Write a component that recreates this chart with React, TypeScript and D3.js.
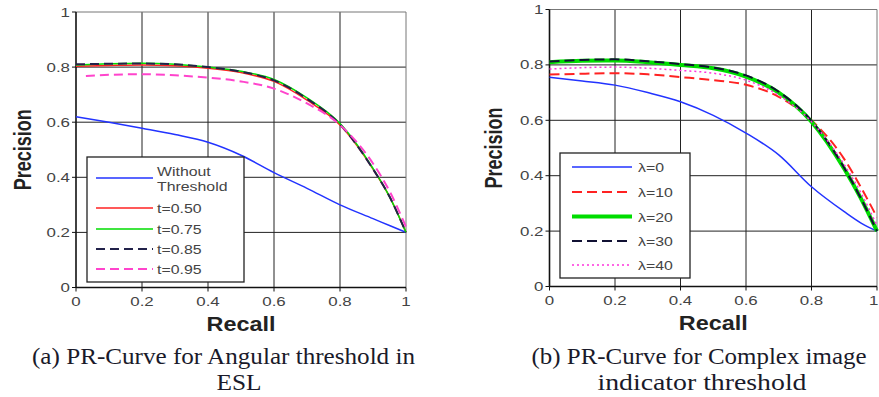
import React from "react";
import * as d3 from "d3";

const recallA = [0, 0.1, 0.2, 0.3, 0.4, 0.5, 0.6, 0.7, 0.8, 0.9, 0.95, 1.0];
const withoutThreshold = [0.62, 0.6, 0.578, 0.555, 0.527, 0.48, 0.417, 0.36, 0.3, 0.25, 0.225, 0.2];
const t050 = [0.803, 0.806, 0.808, 0.805, 0.796, 0.78, 0.748, 0.68, 0.59, 0.43, 0.33, 0.2];
const t075 = [0.808, 0.812, 0.814, 0.81, 0.8, 0.785, 0.755, 0.688, 0.595, 0.432, 0.33, 0.2];
const t085 = [0.81, 0.812, 0.813, 0.81, 0.8, 0.783, 0.752, 0.685, 0.592, 0.43, 0.33, 0.2];
const recallA95 = [0.03, 0.1, 0.2, 0.3, 0.4, 0.5, 0.6, 0.7, 0.8, 0.9, 0.95, 1.0];
const t095 = [0.768, 0.772, 0.774, 0.77, 0.762, 0.748, 0.722, 0.668, 0.59, 0.45, 0.35, 0.22];

const recallB = [0, 0.1, 0.2, 0.3, 0.4, 0.5, 0.6, 0.7, 0.8, 0.9, 0.95, 1.0];
const lambda0 = [0.755, 0.742, 0.727, 0.7, 0.667, 0.618, 0.554, 0.475, 0.36, 0.27, 0.23, 0.2];
const lambda10 = [0.765, 0.768, 0.77, 0.766, 0.756, 0.745, 0.728, 0.685, 0.6, 0.46, 0.36, 0.25];
const lambda20 = [0.81, 0.815, 0.816, 0.81, 0.8, 0.788, 0.758, 0.7, 0.595, 0.425, 0.32, 0.2];
const lambda30 = [0.812, 0.818, 0.82, 0.813, 0.803, 0.79, 0.762, 0.703, 0.598, 0.428, 0.32, 0.2];
const lambda40 = [0.785, 0.79, 0.792, 0.788, 0.78, 0.77, 0.745, 0.69, 0.595, 0.44, 0.34, 0.22];

const ticks = [0, 0.2, 0.4, 0.6, 0.8, 1];
const tickLabels = ["0", "0.2", "0.4", "0.6", "0.8", "1"];

type Series = {
  label: string[];
  x: number[];
  y: number[];
  color: string;
  width: number;
  dash?: string;
};

const seriesA: Series[] = [
  { label: ["Without", "Threshold"], x: recallA, y: withoutThreshold, color: "#2233ff", width: 1.5 },
  { label: ["t=0.50"], x: recallA, y: t050, color: "#ff2222", width: 1.5 },
  { label: ["t=0.75"], x: recallA, y: t075, color: "#00dd00", width: 1.5 },
  { label: ["t=0.85"], x: recallA, y: t085, color: "#22224a", width: 2, dash: "9,5" },
  { label: ["t=0.95"], x: recallA95, y: t095, color: "#ff44cc", width: 2, dash: "9,5" },
];

const seriesB: Series[] = [
  { label: ["λ=0"], x: recallB, y: lambda0, color: "#2233ff", width: 1.5 },
  { label: ["λ=10"], x: recallB, y: lambda10, color: "#ff2222", width: 2, dash: "10,5" },
  { label: ["λ=20"], x: recallB, y: lambda20, color: "#00dd00", width: 4 },
  { label: ["λ=30"], x: recallB, y: lambda30, color: "#111133", width: 2, dash: "10,5" },
  { label: ["λ=40"], x: recallB, y: lambda40, color: "#ff33dd", width: 1.5, dash: "2,3" },
];

const SANS = "'Liberation Sans', Arial, sans-serif";
const SERIF = "'Liberation Serif', 'Times New Roman', serif";

function Txt({
  x,
  y,
  children,
  size = 13,
  sx = 1.3,
  anchor = "start",
  weight = "normal",
  fill = "#444",
}: {
  x: number;
  y: number;
  children: React.ReactNode;
  size?: number;
  sx?: number;
  anchor?: string;
  weight?: string;
  fill?: string;
}) {
  return (
    <text
      transform={`translate(${x},${y}) scale(${sx},1)`}
      textAnchor={anchor}
      fontSize={size}
      fontWeight={weight}
      fill={fill}
      fontFamily={SANS}
    >
      {children}
    </text>
  );
}

type Caption = { text: string; cx: number; y: number; len: number };

type PanelProps = {
  x0: number;
  x1: number;
  y0: number;
  y1: number;
  series: Series[];
  legend: { x: number; y: number; w: number; h: number; rows: number[]; lx0: number; lx1: number; tx: number };
  captions: Caption[];
  precisionX: number;
};

function Panel({ x0, x1, y0, y1, series, legend, captions, precisionX }: PanelProps) {
  const xs = d3.scaleLinear().domain([0, 1]).range([x0, x1]);
  const ys = d3.scaleLinear().domain([0, 1]).range([y0, y1]);
  const mk = (s: Series) =>
    d3
      .line<number>()
      .x((_, i) => xs(s.x[i]))
      .y((v) => ys(v))
      .curve(d3.curveMonotoneX)(s.y) || "";
  return (
    <g>
      {ticks.slice(1, 5).map((t) => (
        <g key={"g" + t}>
          <line x1={xs(t)} x2={xs(t)} y1={y0} y2={y1} stroke="#222" strokeWidth={1} />
          <line x1={x0} x2={x1} y1={ys(t)} y2={ys(t)} stroke="#222" strokeWidth={1} />
        </g>
      ))}
      <line x1={x0} x2={x1} y1={y1} y2={y1} stroke="#777" strokeWidth={1} />
      <line x1={x1} x2={x1} y1={y0} y2={y1} stroke="#777" strokeWidth={1} />
      <line x1={x0} x2={x0} y1={y0} y2={y1} stroke="#111" strokeWidth={1.6} />
      <line x1={x0} x2={x1} y1={y0} y2={y0} stroke="#111" strokeWidth={1.6} />
      {ticks.map((t, i) => {
        const edge = xs(t) + 9 > 879;
        return (
          <g key={"t" + t}>
            <line x1={x0 - 4} x2={x0} y1={ys(t)} y2={ys(t)} stroke="#111" />
            <line x1={xs(t)} x2={xs(t)} y1={y0} y2={y0 + 4} stroke="#111" />
            <Txt x={x0 - 6} y={ys(t) + 4.5} anchor="end">
              {tickLabels[i]}
            </Txt>
            <Txt x={edge ? 878.5 : xs(t)} y={y0 + 18} anchor={edge ? "end" : "middle"}>
              {tickLabels[i]}
            </Txt>
          </g>
        );
      })}
      {series.map((s, i) => (
        <path key={"s" + i} d={mk(s)} fill="none" stroke={s.color} strokeWidth={s.width} strokeDasharray={s.dash} />
      ))}
      <rect x={legend.x} y={legend.y} width={legend.w} height={legend.h} fill="#fff" stroke="#222" strokeWidth={1.3} />
      {series.map((s, i) => (
        <g key={"l" + i}>
          <line
            x1={legend.lx0}
            x2={legend.lx1}
            y1={legend.rows[i]}
            y2={legend.rows[i]}
            stroke={s.color}
            strokeWidth={s.width}
            strokeDasharray={s.dash}
          />
          {s.label.map((l, j) => (
            <Txt
              key={j}
              x={legend.tx}
              y={legend.rows[i] + 5 + (s.label.length > 1 ? (j - 0.5) * 15 : 0)}
              sx={1.22}
            >
              {l}
            </Txt>
          ))}
        </g>
      ))}
      <Txt x={(x0 + x1) / 2} y={y0 + 43} anchor="middle" size={19.5} sx={1.2} weight="bold" fill="#222">
        Recall
      </Txt>
      <text
        transform={`translate(${precisionX},${(y0 + y1) / 2}) scale(1.35,1) rotate(-90)`}
        textAnchor="middle"
        fontSize={18}
        fontWeight="bold"
        fill="#222"
        fontFamily={SANS}
      >
        Precision
      </text>
      {captions.map((c, i) => (
        <text
          key={"c" + i}
          x={c.cx}
          y={c.y}
          textAnchor="middle"
          fontSize={24}
          fill="#1a1a2a"
          fontFamily={SERIF}
          textLength={c.len}
          lengthAdjust="spacingAndGlyphs"
        >
          {c.text}
        </text>
      ))}
    </g>
  );
}

export default function App() {
  return (
    <svg width={879} height={397} style={{ position: "absolute", left: 0, top: 0, background: "#fff" }}>
      <Panel
        x0={76}
        x1={406}
        y0={287.5}
        y1={12}
        series={seriesA}
        legend={{ x: 87, y: 157, w: 157, h: 125, rows: [178, 208, 229, 249, 269], lx0: 96, lx1: 153, tx: 157 }}
        captions={[
          { text: "(a) PR-Curve for Angular threshold in", cx: 223.5, y: 364, len: 383 },
          { text: "ESL", cx: 239, y: 389.5, len: 45 },
        ]}
        precisionX={31}
      />
      <Panel
        x0={549.5}
        x1={877}
        y0={286.5}
        y1={9.5}
        series={seriesB}
        legend={{ x: 560, y: 153, w: 130, h: 125, rows: [167, 192, 216.5, 241, 265], lx0: 572, lx1: 632, tx: 638 }}
        captions={[
          { text: "(b) PR-Curve for Complex image", cx: 699, y: 364, len: 335 },
          { text: "indicator threshold", cx: 702, y: 390, len: 209 },
        ]}
        precisionX={502}
      />
    </svg>
  );
}
